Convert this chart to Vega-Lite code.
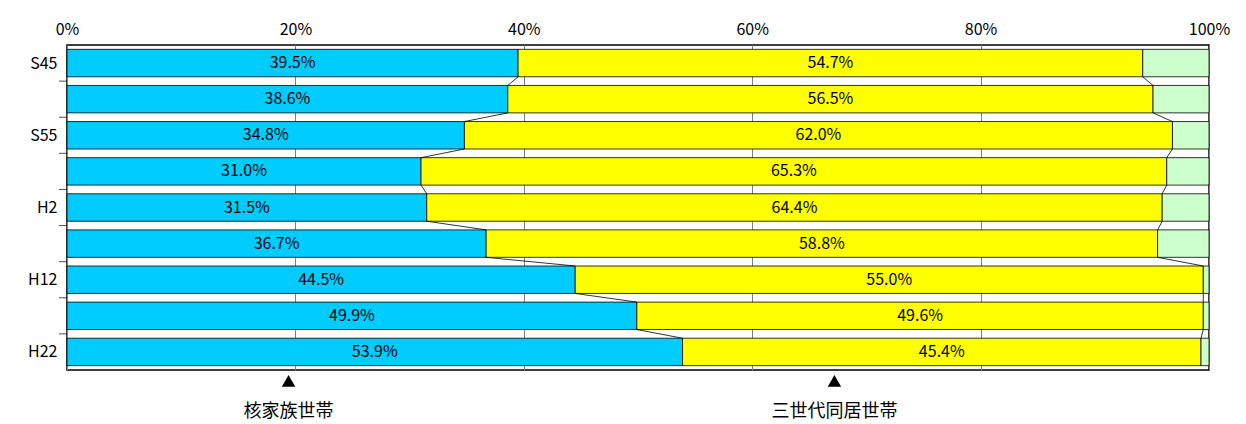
{
  "$schema": "https://vega.github.io/schema/vega-lite/v6.json",
  "width": 1142,
  "height": 325,
  "autosize": "none",
  "padding": {"left": 67, "top": 45, "right": 37, "bottom": 54},
  "background": "#ffffff",
  "view": {"stroke": "#000000", "strokeWidth": 1.5},
  "config": {"font": "Noto Sans CJK JP"},
  "datasets": {
    "rows": [
      {"i": 0, "nuc": 39.5, "tri": 54.7, "c2": 94.2},
      {"i": 1, "nuc": 38.6, "tri": 56.5, "c2": 95.1},
      {"i": 2, "nuc": 34.8, "tri": 62.0, "c2": 96.8},
      {"i": 3, "nuc": 31.0, "tri": 65.3, "c2": 96.3},
      {"i": 4, "nuc": 31.5, "tri": 64.4, "c2": 95.9},
      {"i": 5, "nuc": 36.7, "tri": 58.8, "c2": 95.5},
      {"i": 6, "nuc": 44.5, "tri": 55.0, "c2": 99.5},
      {"i": 7, "nuc": 49.9, "tri": 49.6, "c2": 99.5},
      {"i": 8, "nuc": 53.9, "tri": 45.4, "c2": 99.3}
    ],
    "links": [
      {"i": 0, "a1": 39.5, "b1": 38.6, "a2": 94.2, "b2": 95.1},
      {"i": 1, "a1": 38.6, "b1": 34.8, "a2": 95.1, "b2": 96.8},
      {"i": 2, "a1": 34.8, "b1": 31.0, "a2": 96.8, "b2": 96.3},
      {"i": 3, "a1": 31.0, "b1": 31.5, "a2": 96.3, "b2": 95.9},
      {"i": 4, "a1": 31.5, "b1": 36.7, "a2": 95.9, "b2": 95.5},
      {"i": 5, "a1": 36.7, "b1": 44.5, "a2": 95.5, "b2": 99.5},
      {"i": 6, "a1": 44.5, "b1": 49.9, "a2": 99.5, "b2": 99.5},
      {"i": 7, "a1": 49.9, "b1": 53.9, "a2": 99.5, "b2": 99.3}
    ],
    "notes": [
      {"x": 19.4, "label": "核家族世帯", "yt": 8.8, "yl": 9.65},
      {"x": 67.2, "label": "三世代同居世帯", "yt": 8.8, "yl": 9.65}
    ]
  },
  "layer": [
    {
      "data": {"name": "rows"},
      "transform": [{"calculate": "datum.i - 0.38", "as": "top"}, {"calculate": "datum.i + 0.38", "as": "bot"}, {"calculate": "0", "as": "zero"}],
      "mark": {"type": "bar", "color": "#00CCFF", "stroke": "#000000", "strokeWidth": 0.8},
      "encoding": {
        "x": {"field": "zero", "type": "quantitative", "scale": {"domain": [0, 100], "nice": false},
          "axis": {"orient": "top", "values": [0, 20, 40, 60, 80, 100], "labelExpr": "datum.value + '%'", "title": null,
            "grid": true, "gridColor": "#808080", "gridOpacity": 1, "domain": false, "ticks": false, "labelFontSize": 16, "labelColor": "#000000", "labelPadding": 8,
            "labelFlush": false}},
        "x2": {"field": "nuc"},
        "y": {"field": "top", "type": "quantitative", "scale": {"domain": [-0.5, 8.5], "reverse": true, "nice": false, "zero": false},
          "axis": {"values": [0, 2, 4, 6, 8], "labelExpr": "['S45','','S55','','H2','','H12','','H22'][datum.value]", "title": null,
            "grid": false, "domain": false, "ticks": false, "labelFontSize": 16, "labelColor": "#000000", "labelPadding": 10}},
        "y2": {"field": "bot"}
      }
    },
    {
      "data": {"name": "rows"},
      "transform": [{"calculate": "datum.i - 0.38", "as": "top"}, {"calculate": "datum.i + 0.38", "as": "bot"}],
      "mark": {"type": "bar", "color": "#FFFF00", "stroke": "#000000", "strokeWidth": 0.8},
      "encoding": {"x": {"field": "nuc", "type": "quantitative"}, "x2": {"field": "c2"}, "y": {"field": "top", "type": "quantitative"}, "y2": {"field": "bot"}}
    },
    {
      "data": {"name": "rows"},
      "transform": [{"calculate": "datum.i - 0.38", "as": "top"}, {"calculate": "datum.i + 0.38", "as": "bot"}, {"calculate": "100", "as": "full"}],
      "mark": {"type": "bar", "color": "#CCFFCC", "stroke": "#000000", "strokeWidth": 0.8},
      "encoding": {"x": {"field": "c2", "type": "quantitative"}, "x2": {"field": "full"}, "y": {"field": "top", "type": "quantitative"}, "y2": {"field": "bot"}}
    },
    {
      "data": {"name": "links"},
      "transform": [{"calculate": "datum.i + 0.38", "as": "ya"}, {"calculate": "datum.i + 0.62", "as": "yb"}],
      "mark": {"type": "rule", "color": "#000000", "strokeWidth": 0.8},
      "encoding": {"x": {"field": "a1", "type": "quantitative"}, "x2": {"field": "b1"}, "y": {"field": "ya", "type": "quantitative"}, "y2": {"field": "yb"}}
    },
    {
      "data": {"name": "links"},
      "transform": [{"calculate": "datum.i + 0.38", "as": "ya"}, {"calculate": "datum.i + 0.62", "as": "yb"}],
      "mark": {"type": "rule", "color": "#000000", "strokeWidth": 0.8},
      "encoding": {"x": {"field": "a2", "type": "quantitative"}, "x2": {"field": "b2"}, "y": {"field": "ya", "type": "quantitative"}, "y2": {"field": "yb"}}
    },
    {
      "data": {"name": "links"},
      "transform": [{"calculate": "datum.i + 0.5", "as": "yt"}, {"calculate": "0", "as": "zero"}],
      "mark": {"type": "tick", "orient": "horizontal", "color": "#000000", "size": 8, "thickness": 1, "xOffset": -4},
      "encoding": {"x": {"field": "zero", "type": "quantitative"}, "y": {"field": "yt", "type": "quantitative"}}
    },
    {
      "data": {"name": "rows"},
      "transform": [{"calculate": "datum.nuc / 2", "as": "m1"}, {"calculate": "format(datum.nuc, '.1f') + '%'", "as": "t1"}],
      "mark": {"type": "text", "fontSize": 16, "color": "#000000"},
      "encoding": {"x": {"field": "m1", "type": "quantitative"}, "y": {"field": "i", "type": "quantitative"}, "text": {"field": "t1", "type": "nominal"}}
    },
    {
      "data": {"name": "rows"},
      "transform": [{"calculate": "datum.nuc + datum.tri / 2", "as": "m2"}, {"calculate": "format(datum.tri, '.1f') + '%'", "as": "t2"}],
      "mark": {"type": "text", "fontSize": 16, "color": "#000000"},
      "encoding": {"x": {"field": "m2", "type": "quantitative"}, "y": {"field": "i", "type": "quantitative"}, "text": {"field": "t2", "type": "nominal"}}
    },
    {
      "data": {"name": "notes"},
      "mark": {"type": "point", "shape": "triangle-up", "filled": true, "color": "#000000", "size": 180, "opacity": 1},
      "encoding": {"x": {"field": "x", "type": "quantitative"}, "y": {"field": "yt", "type": "quantitative"}}
    },
    {
      "data": {"name": "notes"},
      "mark": {"type": "text", "fontSize": 18, "color": "#000000"},
      "encoding": {"x": {"field": "x", "type": "quantitative"}, "y": {"field": "yl", "type": "quantitative"}, "text": {"field": "label", "type": "nominal"}}
    }
  ]
}
